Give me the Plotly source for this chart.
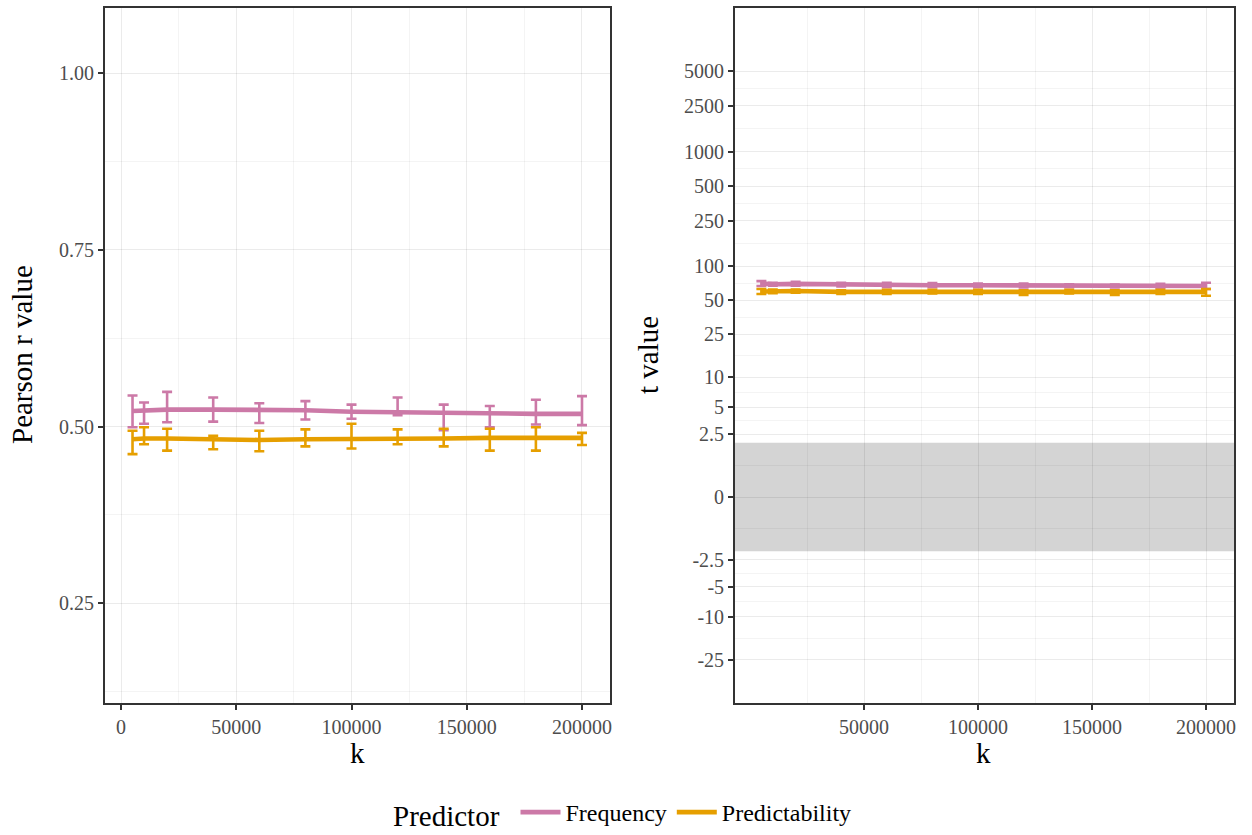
import numpy as np
import plotly.graph_objects as go

# ---------------- data ----------------
k = [5000, 10000, 20000, 40000, 60000, 80000, 100000, 120000, 140000, 160000, 180000, 200000]

freq_r = [0.522, 0.523, 0.524, 0.524, 0.524, 0.523, 0.521, 0.520, 0.519, 0.518, 0.518, 0.518]
freq_r_hi = [0.544, 0.534, 0.549, 0.541, 0.533, 0.536, 0.531, 0.541, 0.531, 0.529, 0.538, 0.543]
freq_r_lo = [0.499, 0.504, 0.506, 0.507, 0.505, 0.510, 0.511, 0.516, 0.495, 0.499, 0.503, 0.502]

pred_r = [0.482, 0.483, 0.483, 0.482, 0.481, 0.482, 0.482, 0.483, 0.483, 0.484, 0.484, 0.484]
pred_r_hi = [0.494, 0.499, 0.497, 0.487, 0.494, 0.496, 0.504, 0.496, 0.497, 0.497, 0.499, 0.491]
pred_r_lo = [0.461, 0.475, 0.466, 0.468, 0.465, 0.472, 0.469, 0.475, 0.472, 0.466, 0.466, 0.474]

freq_t = [70.5, 69.5, 70.0, 69.0, 68.5, 68.0, 68.0, 67.5, 67.5, 67.0, 67.0, 67.0]
freq_t_hi = [74.0, 71.5, 73.0, 71.5, 71.5, 71.0, 70.5, 70.5, 69.5, 69.0, 70.0, 71.5]
freq_t_lo = [67.0, 67.5, 67.5, 66.5, 65.5, 65.5, 65.5, 65.0, 65.5, 65.0, 64.5, 63.0]

pred_t = [60.0, 60.5, 60.5, 59.5, 59.5, 59.5, 59.5, 59.5, 59.5, 59.5, 59.5, 59.5]
pred_t_hi = [63.0, 62.5, 62.5, 61.5, 62.0, 62.0, 62.0, 61.5, 62.0, 61.5, 62.0, 63.0]
pred_t_lo = [57.0, 58.0, 58.5, 57.0, 57.0, 57.5, 57.0, 56.0, 57.5, 56.0, 57.0, 55.0]

t_ticks = [-25, -10, -5, -2.5, 0, 2.5, 5, 10, 25, 50, 100, 250, 500, 1000, 2500, 5000]
t_tick_labels = ["-25", "-10", "-5", "-2.5", "0", "2.5", "5", "10", "25", "50",
                 "100", "250", "500", "1000", "2500", "5000"]
sig_band = 1.96

series_names = ["Frequency", "Predictability"]
series_colors = ["#CC79A7", "#E69F00"]


def slog(v):
    v = np.asarray(v, dtype=float)
    return np.sign(v) * np.log1p(np.abs(v))


FONT = "Liberation Serif"
TICKC = "#4D4D4D"
FRAME = "#333333"
GRID = "rgba(0,0,0,0.08)"
GRID_MINOR = "rgba(0,0,0,0.045)"

fig = go.Figure()

left = [(freq_r, freq_r_hi, freq_r_lo), (pred_r, pred_r_hi, pred_r_lo)]
right = [(freq_t, freq_t_hi, freq_t_lo), (pred_t, pred_t_hi, pred_t_lo)]

for i, (name, col) in enumerate(zip(series_names, series_colors)):
    y, hi, lo = (np.asarray(a) for a in left[i])
    fig.add_trace(go.Scatter(
        x=k, y=y, mode="lines", name=name, legendgroup=name,
        line=dict(color=col, width=4.6),
        error_y=dict(type="data", symmetric=False, array=hi - y, arrayminus=y - lo,
                     color=col, thickness=2.6, width=5),
        xaxis="x", yaxis="y", showlegend=True))

for i, (name, col) in enumerate(zip(series_names, series_colors)):
    y, hi, lo = (slog(a) for a in right[i])
    fig.add_trace(go.Scatter(
        x=k, y=y, mode="lines", name=name, legendgroup=name,
        line=dict(color=col, width=4.6),
        error_y=dict(type="data", symmetric=False, array=hi - y, arrayminus=y - lo,
                     color=col, thickness=2.6, width=5),
        xaxis="x2", yaxis="y2", showlegend=False))

# significance band (|t| < 1.96)
fig.add_shape(type="rect", xref="x2 domain", yref="y2", x0=0, x1=1,
              y0=float(slog(-sig_band)), y1=float(slog(sig_band)),
              fillcolor="#D4D4D4", line_width=0, layer="below")

W, H = 1252, 835
xd1 = [105 / W, 610 / W]
xd2 = [735 / W, 1234 / W]
yd = [1 - 703 / H, 1 - 8 / H]

axis_common = dict(showline=True, mirror=True, linecolor=FRAME, linewidth=1.8,
                   ticks="outside", ticklen=5, tickwidth=1.6, tickcolor=FRAME,
                   showgrid=True, gridcolor=GRID, gridwidth=1.3, zeroline=False,
                   tickfont=dict(family=FONT, size=20, color=TICKC), automargin=False)

t_major = slog(t_ticks)
t_minor = list((t_major[:-1] + t_major[1:]) / 2)
minor_common = dict(tickmode="array", showgrid=True, gridcolor=GRID_MINOR, gridwidth=0.8, ticks="")

fig.update_layout(
    width=W, height=H,
    margin=dict(l=0, r=0, t=0, b=0),
    paper_bgcolor="white", plot_bgcolor="white",
    font=dict(family=FONT, color="black"),
    xaxis=dict(domain=xd1, anchor="y", range=[-6940, 212150],
               tickmode="array", tickvals=[0, 50000, 100000, 150000, 200000],
               ticktext=["0", "50000", "100000", "150000", "200000"],
               minor=dict(tickvals=[25000, 75000, 125000, 175000], **minor_common),
               **axis_common),
    yaxis=dict(domain=yd, anchor="x", range=[0.109, 1.092],
               tickmode="array", tickvals=[0.25, 0.5, 0.75, 1.0],
               ticktext=["0.25", "0.50", "0.75", "1.00"],
               minor=dict(tickvals=[0.125, 0.375, 0.625, 0.875], **minor_common),
               **axis_common),
    xaxis2=dict(domain=xd2, anchor="y2", range=[-6580, 212280],
                tickmode="array", tickvals=[50000, 100000, 150000, 200000],
                ticktext=["50000", "100000", "150000", "200000"],
                minor=dict(tickvals=[25000, 75000, 125000, 175000], **minor_common),
                **axis_common),
    yaxis2=dict(domain=yd, anchor="x2", range=[-4.12, 9.78],
                tickmode="array", tickvals=list(t_major), ticktext=t_tick_labels,
                minor=dict(tickvals=t_minor, **minor_common),
                **axis_common),
    legend=dict(orientation="h", x=686 / W, xanchor="center", y=0, yanchor="bottom",
                font=dict(family=FONT, size=24, color="black"),
                itemwidth=40, bgcolor="rgba(0,0,0,0)", tracegroupgap=0),
    showlegend=True,
)

ann = dict(xref="paper", yref="paper", showarrow=False, xanchor="center", yanchor="middle",
           font=dict(family=FONT, size=29, color="black"))
fig.add_annotation(text="Pearson r value", x=22 / W, y=1 - 355 / H, textangle=-90, **ann)
fig.add_annotation(text="t value", x=648 / W, y=1 - 355 / H, textangle=-90, **ann)
fig.add_annotation(text="k", x=357 / W, y=1 - 753 / H, **ann)
fig.add_annotation(text="k", x=983 / W, y=1 - 753 / H, **ann)
fig.add_annotation(text="Predictor", x=446 / W, y=1 - 816 / H, **ann)

fig.write_html("out.html")
